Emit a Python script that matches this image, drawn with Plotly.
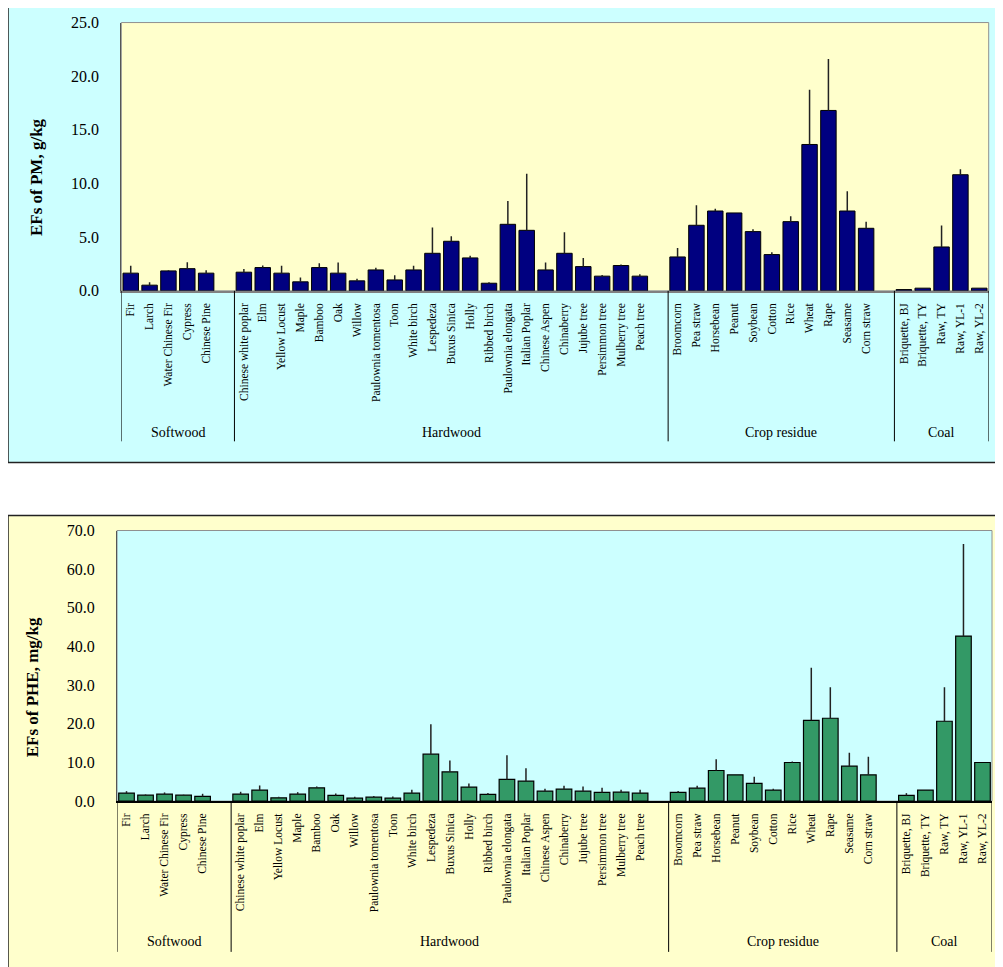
import plotly.graph_objects as go

# ---------------- data ----------------
softwood = ["Fir", "Larch", "Water Chinese Fir", "Cypress", "Chinese Pine"]
hardwood = ["Chinese white poplar", "Elm", "Yellow Locust", "Maple", "Bamboo", "Oak", "Willow",
            "Paulownia tomentosa", "Toon", "White birch", "Lespedeza", "Buxus Sinica", "Holly",
            "Ribbed birch", "Paulownia elongata", "Italian Poplar", "Chinese Aspen", "Chinaberry",
            "Jujube tree", "Persimmon tree", "Mulberry tree", "Peach tree"]
crop = ["Broomcorn", "Pea straw", "Horsebean", "Peanut", "Soybean", "Cotton", "Rice", "Wheat",
        "Rape", "Seasame", "Corn straw"]
coal = ["Briquette, BJ", "Briquette, TY", "Raw, TY", "Raw, YL-1", "Raw, YL-2"]
group_names = ["Softwood", "Hardwood", "Crop residue", "Coal"]

pm_values = [1.65, 0.53, 1.86, 2.07, 1.65,
             1.74, 2.17, 1.65, 0.84, 2.17, 1.65, 0.93, 1.95, 1.02, 1.95, 3.5, 4.62, 3.07, 0.71,
             6.2, 5.64, 1.95, 3.5, 2.26, 1.37, 2.36, 1.37,
             3.16, 6.11, 7.44, 7.26, 5.52, 3.38, 6.45, 13.64, 16.81, 7.44, 5.83,
             0.12, 0.25, 4.09, 10.82, 0.25]
pm_errors = [0.7, 0.28, 0.05, 0.6, 0.28,
             0.3, 0.19, 0.7, 0.4, 0.4, 1.0, 0.19, 0.2, 0.44, 0.4, 2.4, 0.47, 0.2, 0.09,
             2.17, 5.27, 0.7, 1.95, 0.8, 0.1, 0.1, 0.18,
             0.84, 1.86, 0.22, 0.0, 0.22, 0.22, 0.5, 5.1, 4.8, 1.83, 0.62,
             0.0, 0.0, 2.0, 0.5, 0.0]
phe_values = [2.07, 1.55, 1.81, 1.55, 1.2,
              1.81, 2.84, 0.86, 1.81, 3.44, 1.46, 0.77, 1.03, 0.77, 2.07, 12.13, 7.57, 3.62, 1.72,
              5.6, 5.17, 2.58, 3.1, 2.58, 2.24, 2.32, 2.07,
              2.24, 3.35, 7.92, 6.8, 4.56, 2.84, 9.98, 20.9, 21.43, 9.04, 6.8,
              1.46, 2.84, 20.66, 42.7, 9.98]
phe_errors = [0.5, 0.17, 0.43, 0.1, 0.69,
              0.6, 1.2, 0.26, 0.5, 0.35, 0.52, 0.35, 0.26, 0.43, 0.86, 7.77, 2.93, 0.94, 0.35,
              6.28, 3.36, 0.6, 0.86, 1.2, 1.2, 0.6, 0.86,
              0.35, 0.6, 2.93, 0.0, 1.72, 0.34, 0.26, 13.6, 8.0, 3.44, 4.65,
              0.6, 0.0, 8.8, 23.8, 0.0]

# ---------------- category slots (one blank slot closes each group but the last) ----------------
groups = [softwood, hardwood, crop, coal]
names, xpos, group_bounds = [], [], []
slot = 0
for gi, g in enumerate(groups):
    start = slot
    for n in g:
        names.append(n)
        xpos.append(slot)
        slot += 1
    if gi < len(groups) - 1:
        slot += 1
    group_bounds.append((start - 0.5, slot - 0.5))
n_slots = slot

# page geometry (offsets of the figure inside the page, vertical capture scale)
OFFX, OFFY = 8, 16
SY = 967 / 983
W, H = 1003 - 2 * OFFX, 959
def px(x):
    return (x - OFFX) / W
def py(y):
    return 1 - (y / SY - OFFY) / H

SERIF = "Liberation Serif"
fig = go.Figure()

fig.add_trace(go.Bar(
    x=xpos, y=pm_values, width=0.82,
    marker=dict(color="#000080", line=dict(color="#000000", width=1)),
    error_y=dict(type="data", array=pm_errors, arrayminus=[0] * len(pm_errors), symmetric=False,
                 width=0, thickness=1.5, color="#222222"),
    xaxis="x", yaxis="y", showlegend=False))
fig.add_trace(go.Bar(
    x=xpos, y=phe_values, width=0.82,
    marker=dict(color="#339966", line=dict(color="#000000", width=1.2)),
    error_y=dict(type="data", array=phe_errors, arrayminus=[0] * len(phe_errors), symmetric=False,
                 width=0, thickness=1.5, color="#222222"),
    xaxis="x2", yaxis="y2", showlegend=False))

top_plot = dict(x0=121.3, x1=988.7, y0=22.3, y1=291)
bot_plot = dict(x0=117, x1=992, y0=531, y1=802)

xaxis_common = dict(range=[-0.5, n_slots - 0.5], tickmode="array", tickvals=xpos, ticktext=names,
                    tickangle=-90, tickfont=dict(family=SERIF, size=11.5, color="#000000"),
                    showgrid=False, zeroline=False, showline=True, ticks="", fixedrange=True)
yaxis_common = dict(showgrid=False, zeroline=False, showline=True, ticks="", tickformat=".1f",
                    tickfont=dict(family=SERIF, size=16, color="#000000"), ticklabelstandoff=18)

fig.update_layout(
    width=W, height=H, margin=dict(l=0, r=0, t=0, b=0),
    paper_bgcolor="white", plot_bgcolor="rgba(0,0,0,0)", bargap=0.18,
    xaxis=dict(domain=[px(top_plot["x0"]), px(top_plot["x1"])], anchor="y",
               linecolor="#808080", linewidth=1.5, ticklabelstandoff=6, **xaxis_common),
    yaxis=dict(domain=[py(top_plot["y1"]), py(top_plot["y0"])], anchor="x",
               range=[0, 25], dtick=5, linecolor="#555555", linewidth=1, **yaxis_common),
    xaxis2=dict(domain=[px(bot_plot["x0"]), px(bot_plot["x1"])], anchor="y2",
                linecolor="#000000", linewidth=1.5, ticklabelstandoff=6, **xaxis_common),
    yaxis2=dict(domain=[py(bot_plot["y1"]), py(bot_plot["y0"])], anchor="x2",
                range=[0, 70], dtick=10, linecolor="#555555", linewidth=1, **yaxis_common),
)

shapes = []
# outer chart boxes
shapes.append(dict(type="rect", xref="paper", yref="paper", x0=px(8), x1=px(1015), y0=py(463), y1=py(7),
                   fillcolor="#CCFFFF", line=dict(color="#222222", width=1.5), layer="below"))
shapes.append(dict(type="rect", xref="paper", yref="paper", x0=px(8), x1=px(1015), y0=py(1000), y1=py(516),
                   fillcolor="#FFFFCC", line=dict(color="#222222", width=1.5), layer="below"))
# plot areas
shapes.append(dict(type="rect", xref="paper", yref="paper",
                   x0=px(top_plot["x0"]), x1=px(top_plot["x1"]), y0=py(top_plot["y1"]), y1=py(top_plot["y0"]),
                   fillcolor="#FFFFCC", line=dict(color="#909090", width=1), layer="below"))
shapes.append(dict(type="rect", xref="paper", yref="paper",
                   x0=px(bot_plot["x0"]), x1=px(bot_plot["x1"]), y0=py(bot_plot["y1"]), y1=py(bot_plot["y0"]),
                   fillcolor="#CCFFFF", line=dict(color="#909090", width=1), layer="below"))

# group separators and group labels
annotations = []
for (xr, ybase, yend, ylab) in [("x", 291, 441.7, 432.7), ("x2", 802, 953, 943)]:
    bounds = sorted(set([b for gb in group_bounds for b in gb]))
    for b in bounds:
        shapes.append(dict(type="line", xref=xr, yref="paper", x0=b, x1=b, y0=py(ybase), y1=py(yend),
                           line=dict(color="#000000", width=1)))
    for (a, b), gname in zip(group_bounds, group_names):
        annotations.append(dict(xref=xr, yref="paper", x=(a + b) / 2, y=py(ylab), text=gname,
                                showarrow=False, xanchor="center", yanchor="middle",
                                font=dict(family=SERIF, size=14, color="#000000")))

annotations.append(dict(xref="paper", yref="paper", x=px(36), y=py(177), text="<b>EFs of PM, g/kg</b>",
                        textangle=-90, showarrow=False, xanchor="center", yanchor="middle",
                        font=dict(family=SERIF, size=17, color="#000000")))
annotations.append(dict(xref="paper", yref="paper", x=px(32), y=py(688), text="<b>EFs of PHE, mg/kg</b>",
                        textangle=-90, showarrow=False, xanchor="center", yanchor="middle",
                        font=dict(family=SERIF, size=17, color="#000000")))

fig.update_layout(shapes=shapes, annotations=annotations)
fig.write_html("out.html")
